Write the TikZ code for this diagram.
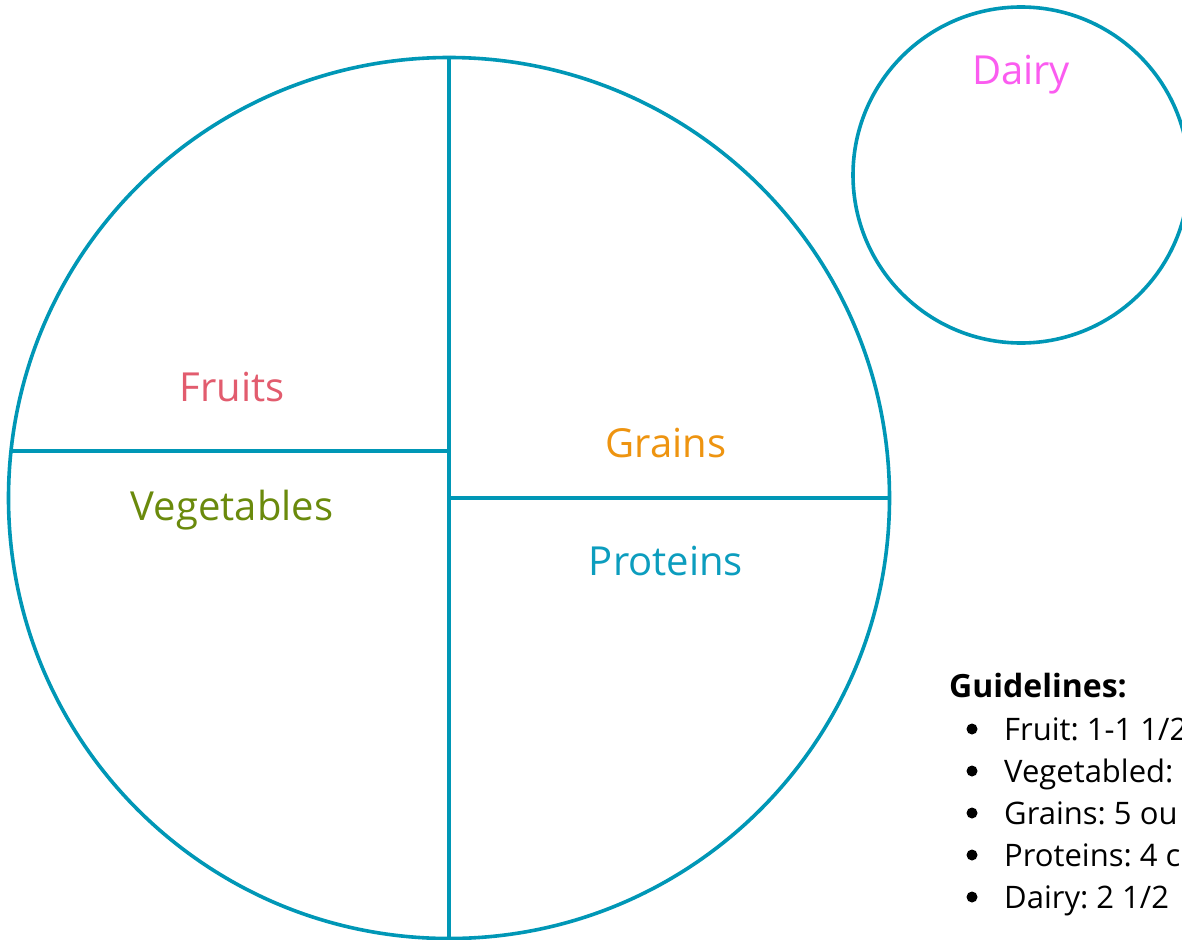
\documentclass[tikz,border=0pt]{standalone}
\usepackage{fontspec}
\setmainfont{Open Sans}
\frenchspacing
\definecolor{plate}{HTML}{0097B6}
\definecolor{cfruit}{HTML}{E25C6E}
\definecolor{cveg}{HTML}{6A8A0C}
\definecolor{cgrain}{HTML}{EE9410}
\definecolor{cprot}{HTML}{0C9DBE}
\definecolor{cdairy}{HTML}{FB5CF0}
\begin{document}
\begin{tikzpicture}[x=1pt,y=-1pt,
  ring/.style={circle, draw=plate, line width=3.6pt, inner sep=0pt},
  divider/.style={draw=plate, line width=3.6pt},
  lab/.style={anchor=base, font=\fontsize{40}{48}\selectfont, inner sep=0pt},
  item/.style={anchor=base west, font=\fontsize{31}{37}\selectfont, inner sep=0pt},
  dot/.style={circle, fill=black, inner sep=0pt, minimum size=11pt}]
\fill[white] (0,0) rectangle (1182,939);
\clip (0,0) rectangle (1182,939);
\useasboundingbox (0,0) rectangle (1182,939);

\node[ring, minimum size=881pt] (plate) at (449,498) {};
\node[ring, minimum size=336pt] (cup) at (1021,175) {};

\coordinate (lx) at (11,451);
\coordinate (mx) at (449,451);
\draw[divider] (plate.north) -- (plate.south);
\draw[divider] (lx) -- (mx);
\draw[divider] (plate.center) -- (plate.east);

\node[lab, text=cfruit] (fruits) at (232,401) {Fruits};
\node[lab, text=cveg] (veg) at (232,520) {Vegetables};
\node[lab, text=cgrain] (grains) at (666,457) {Grains};
\node[lab, text=cprot] (prot) at (666,575) {Proteins};
\node[lab, text=cdairy] (dairy) at (1021,85) {Dairy};

\node[item, font=\fontsize{32}{38}\selectfont\bfseries] (guide) at (949,697) {Guidelines:};
\node[item] (i1) at (1004,740) {Fruit: 1-1 1/2};
\node[item] (i2) at (1004,782) {Vegetabled:};
\node[item] (i3) at (1004,824) {Grains: 5 ou};
\node[item] (i4) at (1004,866) {Proteins: 4 c};
\node[item] (i5) at (1004,908) {Dairy: 2 1/2};
\foreach \k/\y in {1/729,2/771,3/813,4/855,5/897}
  \node[dot] (b\k) at (972,\y) {};
\end{tikzpicture}
\end{document}
